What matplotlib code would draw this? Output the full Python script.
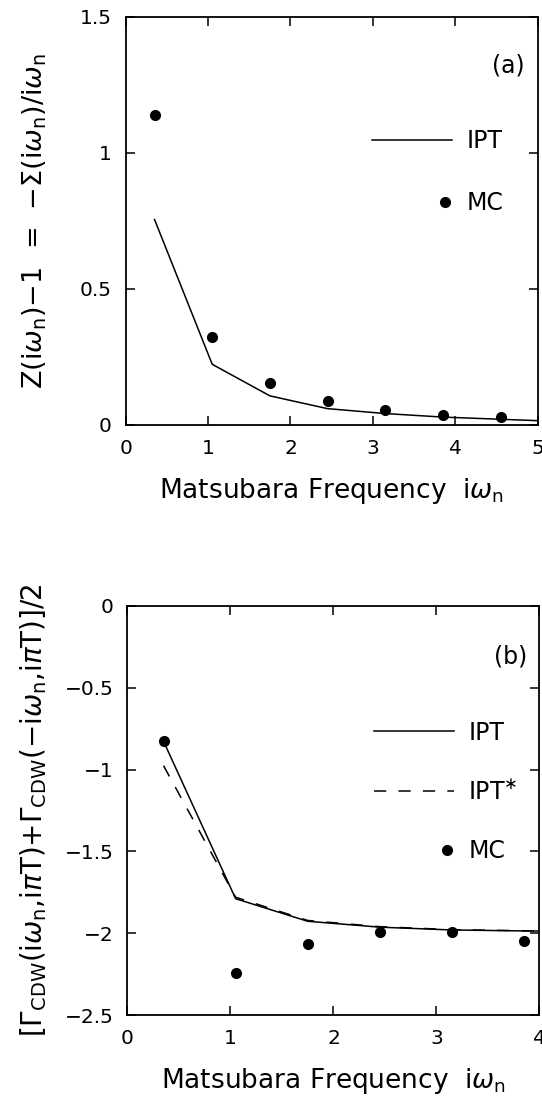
import matplotlib
matplotlib.use('Agg')
import matplotlib.pyplot as plt
import numpy as np
from matplotlib.legend_handler import HandlerLine2D
from matplotlib.ticker import FuncFormatter

plt.rcParams['font.family'] = ['DejaVu Sans']
plt.rcParams['mathtext.fontset'] = 'dejavusans'

# Matsubara frequencies (2n+1)*pi*T
freq = [0.35, 1.05, 1.75, 2.45, 3.15, 3.85, 4.55, 5.25]

# (a) Z(iw_n)-1
a_ipt = [0.755, 0.223, 0.107, 0.060, 0.042, 0.029, 0.021, 0.013]
a_mc = [1.140, 0.324, 0.155, 0.089, 0.056, 0.038, 0.028]

# (b) CDW vertex
b_ipt = [-0.827, -1.789, -1.927, -1.963, -1.980, -1.986, -1.988]
b_ipt_star = [-0.976, -1.780, -1.922, -1.960, -1.978, -1.985, -1.988]
b_mc = [-0.827, -2.246, -2.063, -1.990, -1.992, -2.045]

a_xticks = [0, 1, 2, 3, 4, 5]
a_yticks = [0, 0.5, 1, 1.5]
b_xticks = [0, 1, 2, 3, 4]
b_yticks = [-2.5, -2, -1.5, -1, -0.5, 0]


class RightDot(HandlerLine2D):
    # legend dot sits near the right end of the handle, like the original
    def get_xdata(self, legend, xdescent, ydescent, width, height, fontsize):
        t = -xdescent + width - 0.3 * fontsize
        return np.array([t, t]), np.array([t])


def fmt(v, pos):
    return ('%g' % v).replace('-', '\u2212')


fig = plt.figure(figsize=(5.42, 10.99), dpi=100)
ax1 = fig.add_axes([0.2319, 0.6133, 0.7601, 0.3715])
ax2 = fig.add_axes([0.2352, 0.0764, 0.7601, 0.3722])

lw = 1.1
ms = 7.0

# ---- panel (a)
ax1.plot(freq, a_ipt, color='black', linewidth=lw, label='IPT')
mc1, = ax1.plot(freq[:len(a_mc)], a_mc, linestyle='none', marker='o', color='black',
                markersize=ms, label='MC')
ax1.set_xlim(0, 5)
ax1.set_ylim(0, 1.5)
ax1.set_xticks(a_xticks)
ax1.set_yticks(a_yticks)
ax1.text(0.928, 0.881, '(a)', transform=ax1.transAxes, ha='center', va='center',
         fontsize=17)

# ---- panel (b)
ax2.plot(freq[:len(b_ipt)], b_ipt, color='black', linewidth=lw, label='IPT')
ax2.plot(freq[:len(b_ipt_star)], b_ipt_star, color='black', linewidth=lw,
         linestyle=(0, (8, 8)), label='IPT$^{\\ast}$')
mc2, = ax2.plot(freq[:len(b_mc)], b_mc, linestyle='none', marker='o', color='black',
                markersize=ms, label='MC')
ax2.set_xlim(0, 4)
ax2.set_ylim(-2.5, 0)
ax2.set_xticks(b_xticks)
ax2.set_yticks(b_yticks)
ax2.text(0.93, 0.876, '(b)', transform=ax2.transAxes, ha='center', va='center',
         fontsize=17)

for ax, mc, ytop, sp in ((ax1, mc1, 0.724, 1.6), (ax2, mc2, 0.72, 1.48)):
    ax.tick_params(direction='in', top=True, right=True, length=6.7, width=1.1,
                   labelsize=14.5, pad=10)
    ax.xaxis.set_major_formatter(FuncFormatter(fmt))
    ax.yaxis.set_major_formatter(FuncFormatter(fmt))
    for s in ax.spines.values():
        s.set_linewidth(1.3)
    ax.set_xlabel('Matsubara Frequency  i$\\omega_\\mathregular{n}$', fontsize=19,
                  labelpad=13)
    ax.legend(loc='upper left', bbox_to_anchor=(0.598, ytop), frameon=False,
              fontsize=17, handlelength=3.4, handletextpad=0.6, labelspacing=sp,
              borderpad=0, borderaxespad=0, numpoints=1,
              handler_map={mc: RightDot()})

ax1.set_ylabel('Z(i$\\omega_\\mathregular{n}$)$-$1  =  $-\\Sigma$(i$\\omega_\\mathregular{n}$)/i$\\omega_\\mathregular{n}$',
               fontsize=19.5)
ax1.yaxis.set_label_coords(-0.185, 0.5)
ax2.set_ylabel('[$\\Gamma_\\mathregular{CDW}$(i$\\omega_\\mathregular{n}$,i$\\pi$T)+$\\Gamma_\\mathregular{CDW}$($-$i$\\omega_\\mathregular{n}$,i$\\pi$T)]/2',
               fontsize=20)
ax2.yaxis.set_label_coords(-0.19, 0.5)

fig.savefig('out.png', dpi=100)
